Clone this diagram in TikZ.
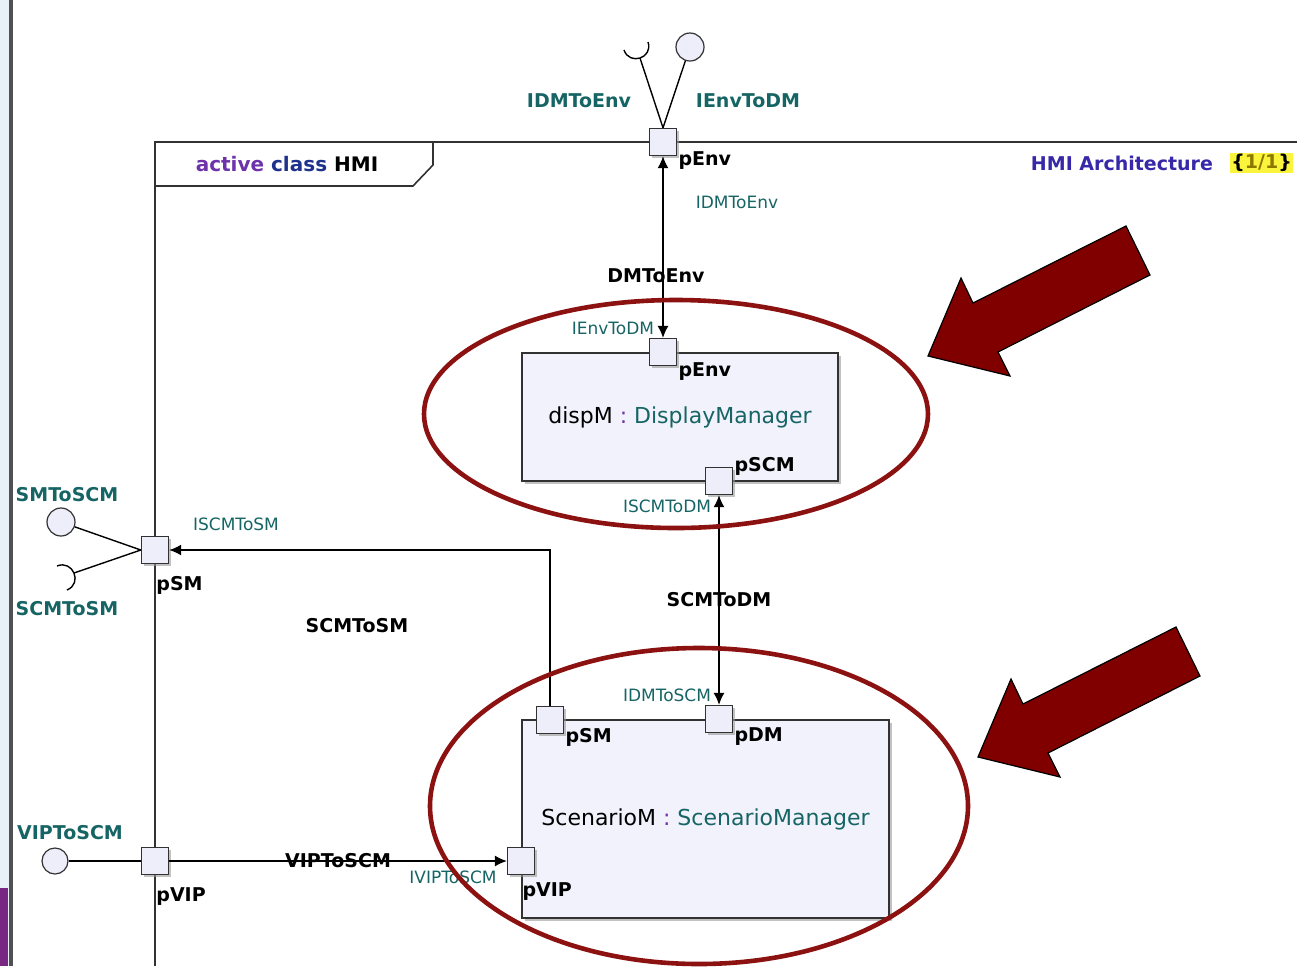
\documentclass[tikz,border=0pt]{standalone}
\usepackage{fontspec}
\setmainfont{DejaVu Sans}
\usepackage{xcolor}
\usetikzlibrary{positioning,calc,shadows,arrows.meta}

\definecolor{portfill}{RGB}{238,238,250}
\definecolor{boxfill}{RGB}{242,242,252}
\definecolor{ifteal}{RGB}{22,100,100}
\definecolor{darkred}{RGB}{128,0,0}
\definecolor{ringred}{RGB}{140,18,18}
\definecolor{kwpurple}{RGB}{110,50,170}
\definecolor{kwblue}{RGB}{30,50,140}
\definecolor{titleblue}{RGB}{55,40,170}
\definecolor{pageolive}{RGB}{140,120,0}
\definecolor{pageyellow}{RGB}{250,245,60}
\definecolor{stripblue}{RGB}{232,240,248}
\definecolor{edgegray}{RGB}{80,80,80}
\definecolor{edgepurple}{RGB}{120,40,130}
\definecolor{linegray}{RGB}{50,50,50}

\tikzset{
  port/.style={draw=linegray, fill=portfill, minimum size=13.5pt, inner sep=0pt, line width=0.7pt,
    drop shadow={shadow xshift=1.2pt, shadow yshift=-1.2pt, fill=black!40, opacity=0.6}},
  part/.style={draw=linegray, fill=boxfill, line width=0.9pt, inner sep=0pt, font=\fontsize{11}{13}\selectfont,
    drop shadow={shadow xshift=1.5pt, shadow yshift=-1.5pt, fill=black!40, opacity=0.6}},
  ball/.style={draw=linegray, circle, fill=portfill, minimum size=13pt, inner sep=0pt, line width=0.6pt},
  portname/.style={font=\bfseries\fontsize{9.5}{11}\selectfont, inner sep=0.5pt},
  ifname/.style={text=ifteal, font=\fontsize{8.5}{10}\selectfont, inner sep=0.5pt},
  ifbig/.style={text=ifteal, font=\bfseries\fontsize{9.5}{11}\selectfont, inner sep=0.5pt},
  linkname/.style={font=\bfseries\fontsize{9.5}{11}\selectfont, inner sep=0.5pt},
  wire/.style={draw=black, line width=0.7pt},
  frameline/.style={draw=linegray, line width=0.8pt},
  ring/.style={draw=ringred, line width=2.3pt},
  pointer/.style={fill=darkred, draw=black, line width=0.6pt, line join=miter},
}

\begin{document}
\begin{tikzpicture}[x=0.5pt, y=-0.5pt, >={Latex[length=6pt,width=5.5pt]}]
\useasboundingbox (0,0) rectangle (1297,966);

% screen edge
\fill[stripblue] (0,0) rectangle (9,966);
\fill[edgegray] (9,0) rectangle (13,966);
\fill[edgepurple] (0,888) rectangle (8,966);

% frame of the active class
\draw[frameline] (155,966) -- (155,142) -- (1297,142);
\draw[frameline] (155,186) -- (413,186) -- (433,165) -- (433,142);
\node[font=\bfseries\fontsize{10}{12}\selectfont] (clsname) at (287,164)
  {\textcolor{kwpurple}{active} \textcolor{kwblue}{class} HMI};
\node[font=\bfseries\fontsize{9.5}{11}\selectfont, text=titleblue, anchor=east] (diagname) at (1220,163) {HMI Architecture};
\node[font=\bfseries\fontsize{9.5}{11}\selectfont, fill=pageyellow, inner sep=0.5pt, anchor=west] (pageno) at (1230,163)
  {\{\textcolor{pageolive}{1/1}\}};

% parts
\node[part, minimum width=158pt, minimum height=64pt] (dispM) at (680,417)
  {dispM \textcolor{kwpurple}{:} \textcolor{ifteal}{DisplayManager}};
\node[part, minimum width=183.5pt, minimum height=99pt] (scenM) at (705.5,819)
  {ScenarioM \textcolor{kwpurple}{:} \textcolor{ifteal}{ScenarioManager}};

% ports on the frame
\node[port] (penvTop) at (663,142) {};
\node[portname, anchor=west] at ([yshift=-2pt]penvTop.south east) {pEnv};
\node[port] (psmFrame) at (155,550) {};
\node[portname, below right=5.5pt and 0pt of psmFrame.south] {pSM};
\node[port] (pvipFrame) at (155,861) {};
\node[portname, below right=5.5pt and 0pt of pvipFrame.south] {pVIP};

% ports on the parts
\node[port] (penvDisp) at (dispM.north -| penvTop) {};
\node[portname, anchor=west] at ([yshift=-2.5pt]penvDisp.south east) {pEnv};
\node[port] (pscmDisp) at (719,481) {};
\node[portname, anchor=west] at (pscmDisp.north east) {pSCM};
\node[port] (psmScen) at (550,720) {};
\node[portname, anchor=west] at ([yshift=-1.5pt]psmScen.south east) {pSM};
\node[port] (pdmScen) at (scenM.north -| pscmDisp) {};
\node[portname, anchor=west] at ([yshift=-1.5pt]pdmScen.south east) {pDM};
\node[port] (pvipScen) at (scenM.west |- pvipFrame) {};
\node[portname, below right=3pt and 0pt of pvipScen.south] {pVIP};

% provided / required interfaces
\node[ball, minimum size=14pt] (ballEnv) at (690,47) {};
\coordinate (sockEnv) at (640,58);
\draw[wire] (penvTop.north) -- (ballEnv);
\draw[wire] (penvTop.north) -- (sockEnv);
\draw[wire] ($(sockEnv)+(-16,-8)$) .. controls ($(sockEnv)+(-10.5,8)$) and ($(sockEnv)+(13.5,0)$) .. ($(sockEnv)+(8,-16)$);
\node[ifbig] at (579,101) {IDMToEnv};
\node[ifbig] at (748,101) {IEnvToDM};

\node[ball, minimum size=14pt] (ballSM) at (61,522) {};
\coordinate (sockSM) at (74,573);
\draw[wire] (psmFrame.west) -- (ballSM);
\draw[wire] (psmFrame.west) -- (sockSM);
\draw[wire] ($(sockSM)+(-17,-7)$) .. controls ($(sockSM)+(-1,-13.6)$) and ($(sockSM)+(9,10.4)$) .. ($(sockSM)+(-7,17)$);
\node[ifbig] at (67,495) {SMToSCM};
\node[ifbig] at (67,609) {SCMToSM};

\node[ball] (ballVIP) at (55,861) {};
\draw[wire] (pvipFrame.west) -- (ballVIP);
\node[ifbig] at (70,833) {VIPToSCM};

% connectors
\draw[wire, <->] (penvTop) -- (penvDisp) node[linkname, pos=0.655, xshift=-3.5pt] {DMToEnv};
\draw[wire, <->] (pscmDisp) -- (pdmScen) node[linkname, midway] {SCMToDM};
\draw[wire, ->] (psmScen) |- (psmFrame);
\draw[wire, ->] (pvipFrame) -- (pvipScen) node[linkname, midway] {VIPToSCM};
\node[linkname] at (357,626) {SCMToSM};

% interface names at the port ends
\node[ifname] at (737,202) {IDMToEnv};
\node[ifname] at (613,328) {IEnvToDM};
\node[ifname] at (667,506) {ISCMToDM};
\node[ifname] at (667,695) {IDMToSCM};
\node[ifname] at (236,524) {ISCMToSM};
\node[ifname] at (453,877) {IVIPToSCM};

% highlights
\draw[ring] (676,414) ellipse [x radius=126pt, y radius=57pt];
\draw[ring] (699,806) ellipse [x radius=134.5pt, y radius=79pt];
\foreach \dx/\dy in {0/0, 50/401}
  \draw[pointer, shift={(\dx,\dy)}] (1126,226) -- (1150,275) -- (998,352) -- (1010,376)
    -- (928,356) -- (961,278) -- (973,303) -- cycle;
\end{tikzpicture}
\end{document}
